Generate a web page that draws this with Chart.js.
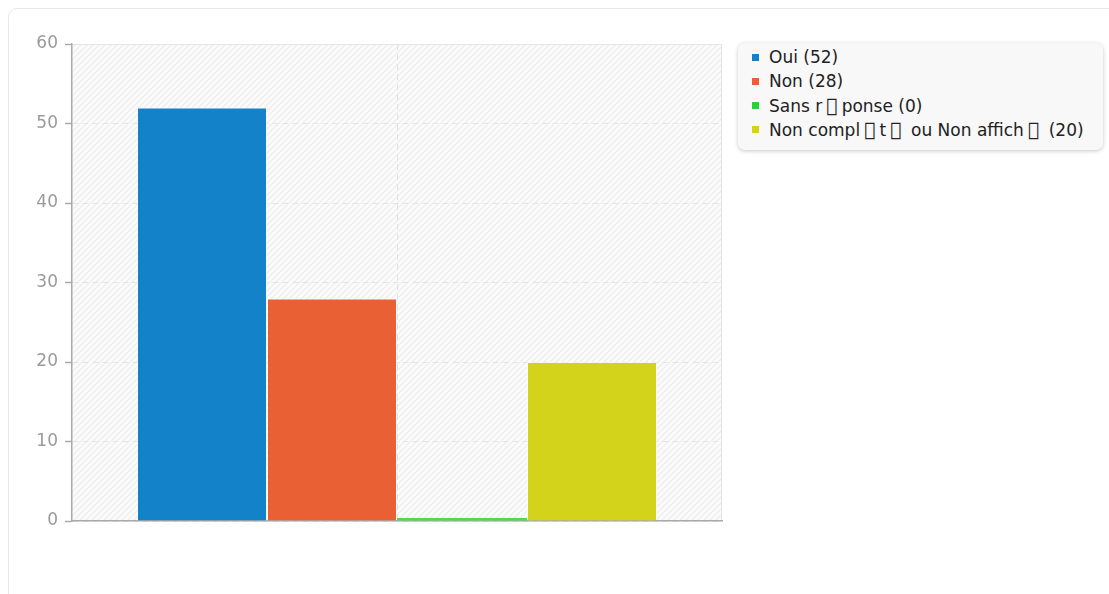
<!DOCTYPE html>
<html><head><meta charset="utf-8">
<script src="https://cdn.jsdelivr.net/npm/chart.js@4.4.1/dist/chart.umd.min.js"></script>
<style>
html,body{margin:0;padding:0;background:#fff;width:1109px;height:594px;overflow:hidden;font-family:"DejaVu Sans",sans-serif;}
#card{position:absolute;left:8px;top:8px;width:1120px;height:620px;border:1px solid #e8e8e8;border-radius:9px;box-sizing:border-box;}
#wrap{position:absolute;left:0;top:0;width:730px;height:594px;}
#legend{position:absolute;left:738px;top:43px;width:365px;height:107px;box-sizing:border-box;background:#f8f8f8;border-radius:7px;box-shadow:0 1px 4px rgba(0,0,0,0.22);padding:2px 0 0 14px;}
.li{height:24.3px;line-height:24px;font-size:17px;color:#222;white-space:nowrap;}
.li span.m{display:inline-block;width:7px;height:7px;margin-right:10px;vertical-align:middle;position:relative;top:-1px;}
.li span.t{font-size:19px;line-height:17px;padding:0 4px;}
</style></head>
<body>
<div id="card"></div>
<div id="wrap"><canvas id="c"></canvas></div>
<div id="legend"></div>
<script>
const categories = [''];
const seriesNames = ['Oui', 'Non', 'Sans r\uE000ponse', 'Non compl\uE000t\uE000 ou Non affich\uE000'];
const seriesValues = [52, 28, 0, 20];
const seriesColors = ['#1482c8', '#e86034', '#2fcf2f', '#d3d31b'];
const barColors = ['#1482c8', '#e86034', '#52d852', '#d3d31b'];
const yTicks = [0, 10, 20, 30, 40, 50, 60];

const legend = document.getElementById('legend');
seriesNames.forEach((n, i) => {
  const d = document.createElement('div');
  d.className = 'li';
  const m = document.createElement('span');
  m.className = 'm';
  m.style.background = seriesColors[i];
  d.appendChild(m);
  const txt = n + ' (' + seriesValues[i] + ')';
  txt.split(/(\uE000)/).forEach(part => {
    if (part === '\uE000') {
      const s = document.createElement('span');
      s.className = 't';
      s.textContent = part;
      d.appendChild(s);
    } else if (part) {
      d.appendChild(document.createTextNode(part));
    }
  });
  legend.appendChild(d);
});

const bgPlugin = {
  id: 'bg',
  beforeDraw(chart) {
    const {ctx, chartArea: a} = chart;
    const pc = document.createElement('canvas');
    pc.width = 6; pc.height = 6;
    const p = pc.getContext('2d');
    p.fillStyle = '#fbfbfb'; p.fillRect(0, 0, 6, 6);
    p.strokeStyle = '#ececec'; p.lineWidth = 1.2;
    p.beginPath(); p.moveTo(0, 6); p.lineTo(6, 0); p.stroke();
    p.beginPath(); p.moveTo(-1, 1); p.lineTo(1, -1); p.stroke();
    p.beginPath(); p.moveTo(5, 7); p.lineTo(7, 5); p.stroke();
    ctx.save();
    ctx.fillStyle = ctx.createPattern(pc, 'repeat');
    ctx.fillRect(a.left, a.top, a.right - a.left, a.bottom - a.top);
    ctx.strokeStyle = '#e4e4e4'; ctx.lineWidth = 1;
    ctx.beginPath();
    ctx.moveTo(a.left, a.top + 0.5); ctx.lineTo(a.right - 0.5, a.top + 0.5); ctx.lineTo(a.right - 0.5, a.bottom);
    ctx.stroke();
    ctx.restore();
  }
};

new Chart(document.getElementById('c'), {
  type: 'bar',
  data: {
    labels: categories,
    datasets: seriesNames.map((n, i) => ({
      label: n,
      data: [seriesValues[i]],
      backgroundColor: barColors[i],
      borderColor: 'rgba(255,255,255,0.45)',
      borderWidth: seriesValues[i] === 0 ? 0 : 1,
      minBarLength: 3,
      categoryPercentage: 0.8,
      barPercentage: 1.0
    }))
  },
  options: {
    responsive: true,
    maintainAspectRatio: false,
    animation: false,
    layout: {padding: {left: 8, top: 44, right: 8, bottom: 73}},
    plugins: {legend: {display: false}, tooltip: {enabled: false}},
    scales: {
      x: {
        grid: {display: true, offset: false, color: '#e2e2e2', drawTicks: false},
        border: {display: true, color: '#aaaaaa', width: 1.5, dash: [6, 4]},
        ticks: {display: false},
        afterFit(s) { s.height = 0; }
      },
      y: {
        min: 0, max: 60,
        afterBuildTicks(s) { s.ticks = yTicks.map(v => ({value: v})); },
        grid: {color: '#e4e4e4', tickColor: '#aaaaaa', tickLength: 7, tickBorderDash: [], tickWidth: 1.5},
        border: {display: true, color: '#aaaaaa', width: 1.5, dash: [6, 4]},
        ticks: {color: '#9a9a9a', font: {family: 'DejaVu Sans', size: 17}, padding: 7},
        afterFit(s) { s.width = 64; }
      }
    }
  },
  plugins: [bgPlugin]
});
</script>
</body></html>
